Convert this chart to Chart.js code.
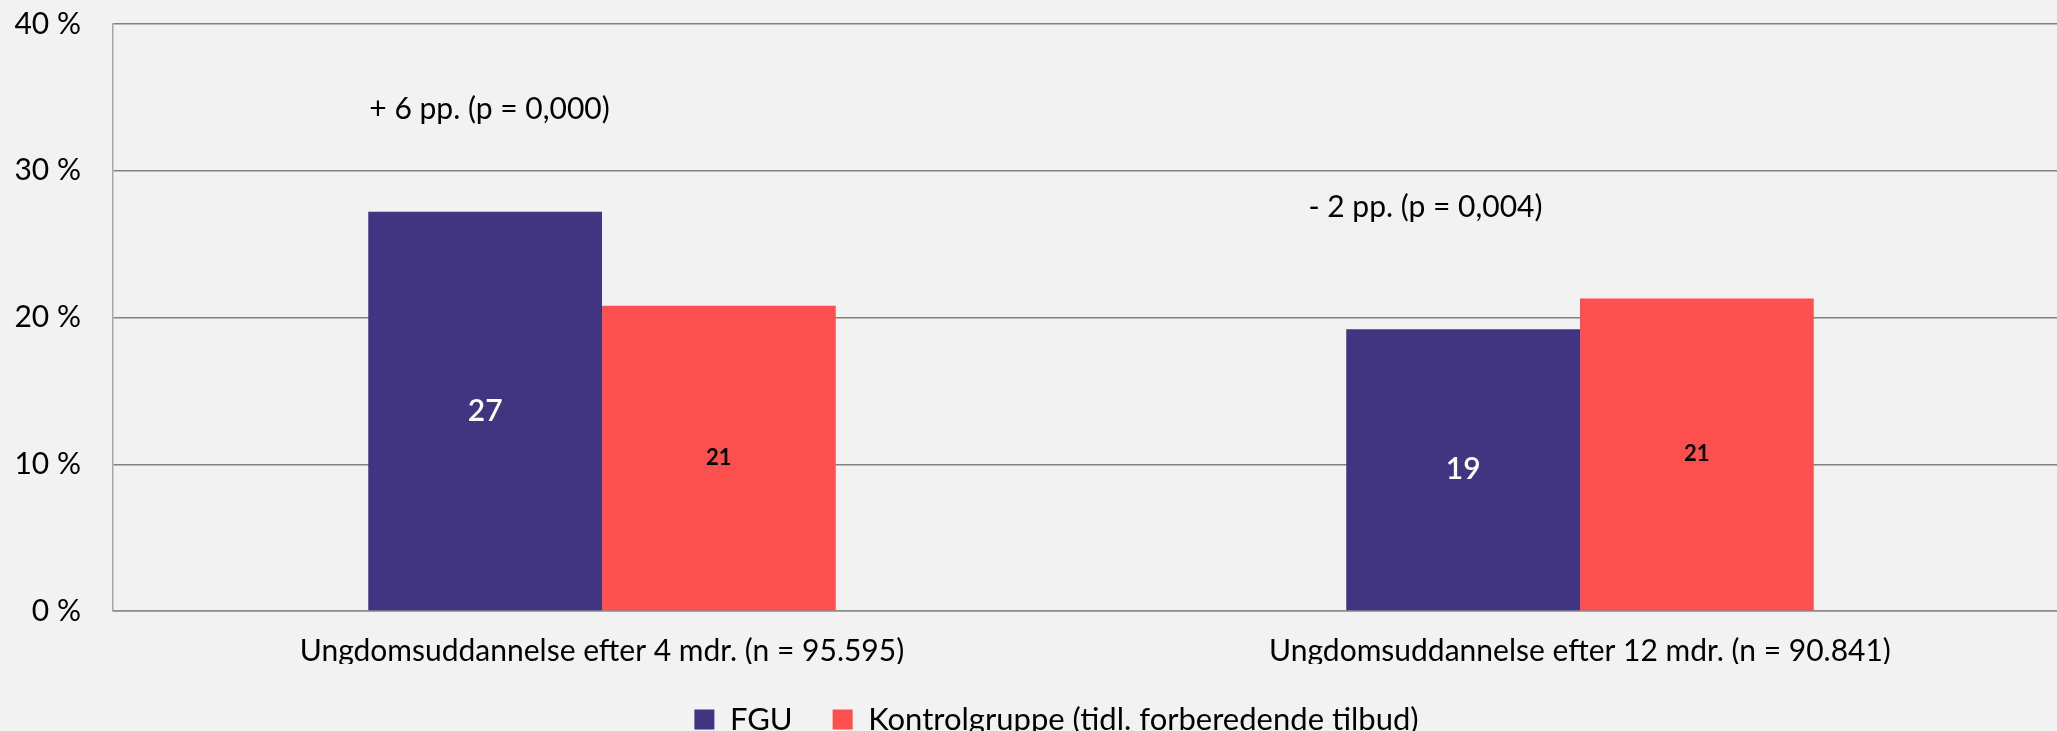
<!DOCTYPE html>
<html>
<head>
<meta charset="utf-8">
<script src="https://cdn.jsdelivr.net/npm/chart.js@4"></script>
<style>
  html, body { margin: 0; padding: 0; background: #f2f2f2; overflow: hidden; }
  /* plotområdet fortsætter lidt ud over højre kant som i originalen */
  #wrap { width: 2069px; height: 731px; }
</style>
</head>
<body>
<div id="wrap"><canvas id="chart"></canvas></div>
<script>
// data
const kategorier = ["Ungdomsuddannelse efter 4 mdr. (n = 95.595)", "Ungdomsuddannelse efter 12 mdr. (n = 90.841)"];
const fgu = [27.2, 19.2];
const kontrol = [20.8, 21.3];
const serier = ["FGU", "Kontrolgruppe (tidl. forberedende tilbud)"];
const yTicks = [0, 10, 20, 30, 40];
const noter = ["+ 6 pp. (p = 0,000)", "- 2 pp. (p = 0,004)"];

const FONT = "Lato, 'Noto Sans', sans-serif";

// tal inde i søjlerne
const vaerdiPlugin = {
    id: "vaerdier",
    afterDatasetsDraw(chart) {
        const ctx = chart.ctx;
        ctx.save();
        ctx.textAlign = "center";
        ctx.textBaseline = "middle";
        chart.data.datasets.forEach((ds, i) => {
            const meta = chart.getDatasetMeta(i);
            meta.data.forEach((bar, j) => {
                const y = (bar.y + bar.base) / 2;
                if (i === 0) {
                    ctx.fillStyle = "#ffffff";
                    ctx.font = "600 30px " + FONT;
                } else {
                    ctx.fillStyle = "#000000";
                    ctx.font = "bold 22px " + FONT;
                }
                ctx.fillText(Math.round(ds.data[j]), bar.x, y);
            });
        });
        ctx.restore();
    }
};

// tekst med forskel og p-værdi
const noterPlugin = {
    id: "noter",
    afterDraw(chart) {
        const ctx = chart.ctx;
        const x = chart.scales.x, y = chart.scales.y;
        const pos = [[-0.115, 34.2], [-0.158, 27.5]];
        ctx.save();
        ctx.fillStyle = "#000";
        ctx.font = "30px " + FONT;
        ctx.textAlign = "center";
        ctx.textBaseline = "middle";
        noter.forEach((t, i) => {
            ctx.fillText(t, x.getPixelForValue(i + pos[i][0]), y.getPixelForValue(pos[i][1]));
        });
        ctx.restore();
    }
};

// legenden sidder lidt til højre for midten
const legendeFlyt = {
    id: "legendeFlyt",
    afterLayout(chart) {
        chart.legend.left += 44;
    }
};

new Chart(document.getElementById("chart"), {
    type: "bar",
    data: {
        labels: kategorier,
        datasets: [
            { label: serier[0], data: fgu, backgroundColor: "#413480", categoryPercentage: 0.478, barPercentage: 1 },
            { label: serier[1], data: kontrol, backgroundColor: "#ff5050", categoryPercentage: 0.478, barPercentage: 1 }
        ]
    },
    options: {
        responsive: true,
        maintainAspectRatio: false,
        animation: false,
        layout: { padding: { top: 24, right: 0, left: 0, bottom: 0 } },
        plugins: {
            tooltip: { enabled: false },
            legend: {
                position: "bottom",
                maxHeight: 67,
                labels: {
                    color: "#000",
                    font: { family: FONT, size: 31 },
                    boxWidth: 20,
                    boxHeight: 20,
                    padding: 40
                }
            }
        },
        scales: {
            x: {
                afterFit: s => { s.height = 53; },
                grid: { display: false, drawTicks: false },
                border: { color: "#8c8c8c", width: 1.5 },
                ticks: { color: "#000", font: { family: FONT, size: 30 }, padding: 22, maxRotation: 0 }
            },
            y: {
                min: 0,
                max: 40,
                afterBuildTicks: s => { s.ticks = yTicks.map(v => ({ value: v })); },
                afterFit: s => { s.width = 113; },
                grid: { color: "#808080", lineWidth: 1.5, drawTicks: true, tickLength: 30, tickColor: "rgba(0,0,0,0)" },
                border: { color: "#a6a6a6", width: 1.5 },
                ticks: {
                    color: "#000",
                    font: { family: FONT, size: 30 },
                    padding: 2,
                    callback: v => v + " %"
                }
            }
        }
    },
    plugins: [vaerdiPlugin, noterPlugin, legendeFlyt]
});
</script>
</body>
</html>
